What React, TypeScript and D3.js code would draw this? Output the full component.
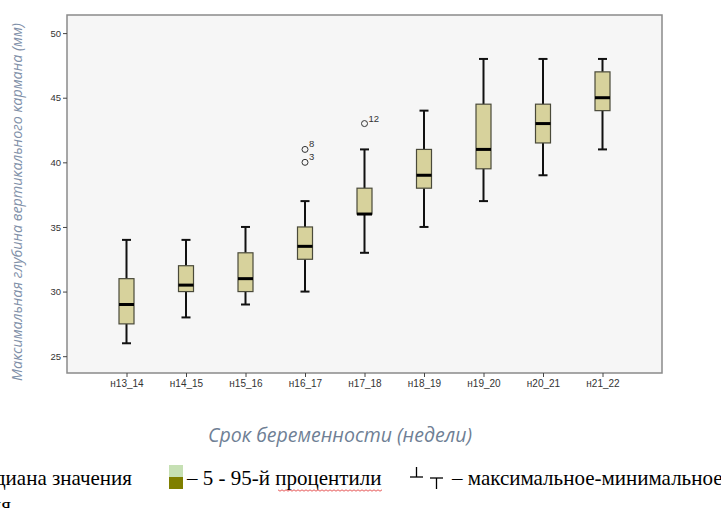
import { useEffect, useRef } from 'react';
import * as d3 from 'd3';

// срок беременности (недели) и статистика для каждой группы (мм)
const groups = ['н13_14', 'н14_15', 'н15_16', 'н16_17', 'н17_18', 'н18_19', 'н19_20', 'н20_21', 'н21_22'];
const minVals = [26, 28, 29, 30, 33, 35, 37, 39, 41];
const q1Vals = [27.5, 30, 30, 32.5, 36, 38, 39.5, 41.5, 44];
const medianVals = [29, 30.5, 31, 33.5, 36, 39, 41, 43, 45];
const q3Vals = [31, 32, 33, 35, 38, 41, 44.5, 44.5, 47];
const maxVals = [34, 34, 35, 37, 41, 44, 48, 48, 48];
const outliers = [
  { group: 'н16_17', value: 40, label: '3' },
  { group: 'н16_17', value: 41, label: '8' },
  { group: 'н17_18', value: 43, label: '12' },
];
const yTicks = [25, 30, 35, 40, 45, 50];

export default function App() {
  const svgRef = useRef<SVGSVGElement>(null);

  useEffect(() => {
    const width = 721;
    const height = 508;
    const plot = { left: 67, top: 15, right: 662, bottom: 373 };

    const svg = d3.select(svgRef.current);
    svg.selectAll('*').remove();
    svg.attr('width', width).attr('height', height);

    const x = d3.scalePoint()
      .domain(groups)
      .range([plot.left, plot.right])
      .padding(1);

    const y = d3.scaleLinear()
      .domain([23.7, 51.4])
      .range([plot.bottom, plot.top]);

    // фон области построения
    svg.append('rect')
      .attr('x', plot.left)
      .attr('y', plot.top)
      .attr('width', plot.right - plot.left)
      .attr('height', plot.bottom - plot.top)
      .attr('fill', '#f6f6f6')
      .attr('stroke', '#8a8a8a')
      .attr('stroke-width', 1.5);

    // ось Y
    const yAxis = svg.append('g')
      .attr('transform', `translate(${plot.left},0)`)
      .call(d3.axisLeft(y).tickValues(yTicks).tickSize(4).tickPadding(2));
    yAxis.select('.domain').remove();
    yAxis.selectAll('line').attr('stroke', '#444');
    yAxis.selectAll('text')
      .attr('font-family', 'Arial, "Liberation Sans", sans-serif')
      .attr('font-size', 9.5)
      .attr('fill', '#333');

    // ось X
    const xAxis = svg.append('g')
      .attr('transform', `translate(0,${plot.bottom})`)
      .call(d3.axisBottom(x).tickSize(4).tickPadding(3));
    xAxis.select('.domain').remove();
    xAxis.selectAll('line').attr('stroke', '#444');
    xAxis.selectAll('text')
      .attr('font-family', 'Arial, "Liberation Sans", sans-serif')
      .attr('font-size', 10)
      .attr('fill', '#333');

    const boxW = 15;
    const capW = 9;

    const g = svg.append('g');
    groups.forEach((name, i) => {
      const cx = x(name) as number;
      // усы
      g.append('line')
        .attr('x1', cx).attr('x2', cx)
        .attr('y1', y(maxVals[i])).attr('y2', y(q3Vals[i]))
        .attr('stroke', '#111').attr('stroke-width', 2);
      g.append('line')
        .attr('x1', cx).attr('x2', cx)
        .attr('y1', y(q1Vals[i])).attr('y2', y(minVals[i]))
        .attr('stroke', '#111').attr('stroke-width', 2);
      g.append('line')
        .attr('x1', cx - capW / 2).attr('x2', cx + capW / 2)
        .attr('y1', y(maxVals[i])).attr('y2', y(maxVals[i]))
        .attr('stroke', '#111').attr('stroke-width', 2);
      g.append('line')
        .attr('x1', cx - capW / 2).attr('x2', cx + capW / 2)
        .attr('y1', y(minVals[i])).attr('y2', y(minVals[i]))
        .attr('stroke', '#111').attr('stroke-width', 2);
      // ящик
      g.append('rect')
        .attr('x', cx - boxW / 2)
        .attr('y', y(q3Vals[i]))
        .attr('width', boxW)
        .attr('height', y(q1Vals[i]) - y(q3Vals[i]))
        .attr('fill', '#d7d29c')
        .attr('stroke', '#4a4a3a')
        .attr('stroke-width', 1.2);
      // медиана
      g.append('line')
        .attr('x1', cx - boxW / 2).attr('x2', cx + boxW / 2)
        .attr('y1', y(medianVals[i])).attr('y2', y(medianVals[i]))
        .attr('stroke', '#000').attr('stroke-width', 3);
    });

    // выбросы
    outliers.forEach(o => {
      const cx = x(o.group) as number;
      g.append('circle')
        .attr('cx', cx).attr('cy', y(o.value)).attr('r', 3)
        .attr('fill', 'none').attr('stroke', '#333').attr('stroke-width', 1);
      g.append('text')
        .attr('x', cx + 4).attr('y', y(o.value) - 2)
        .attr('font-family', 'Arial, "Liberation Sans", sans-serif')
        .attr('font-size', 9.5).attr('fill', '#333')
        .text(o.label);
    });

    // подписи осей
    svg.append('text')
      .attr('transform', 'translate(22,202) rotate(-90)')
      .attr('text-anchor', 'middle')
      .attr('font-family', '"Open Sans", "Noto Sans", sans-serif')
      .attr('font-style', 'italic')
      .attr('font-size', 14.3)
      .attr('fill', '#7f90a8')
      .text('Максимальная глубина вертикального кармана (мм)');

    svg.append('text')
      .attr('x', 340).attr('y', 442)
      .attr('text-anchor', 'middle')
      .attr('font-family', '"Open Sans", "Noto Sans", sans-serif')
      .attr('font-style', 'italic')
      .attr('font-size', 19.5)
      .attr('fill', '#6f7f95')
      .text('Срок беременности (недели)');

    // легенда
    const serif = '"Liberation Serif", "Times New Roman", serif';
    svg.append('text')
      .attr('x', 132).attr('y', 485).attr('text-anchor', 'end')
      .attr('font-family', serif).attr('font-size', 21).attr('fill', '#000')
      .text('Медиана значения');
    svg.append('text')
      .attr('x', 11).attr('y', 512).attr('text-anchor', 'end')
      .attr('font-family', serif).attr('font-size', 21).attr('fill', '#000')
      .text('распределения');

    svg.append('rect')
      .attr('x', 169).attr('y', 465).attr('width', 14).attr('height', 12)
      .attr('fill', '#c6e0b4');
    svg.append('rect')
      .attr('x', 169).attr('y', 477).attr('width', 14).attr('height', 12)
      .attr('fill', '#7f7f00');
    svg.append('text')
      .attr('x', 187).attr('y', 485)
      .attr('font-family', serif).attr('font-size', 21).attr('fill', '#000')
      .text('– 5 - 95-й процентили');

    // волнистое подчёркивание (проверка орфографии)
    const wave = d3.range(0, 106, 2).map((d, i) => [278 + d, 490 + (i % 2 ? 1.2 : -0.2)] as [number, number]);
    svg.append('path')
      .attr('d', d3.line()(wave))
      .attr('fill', 'none').attr('stroke', '#e03030').attr('stroke-width', 0.8);

    // символ усов
    const sym = svg.append('g').attr('stroke', '#000').attr('stroke-width', 1.3);
    sym.append('line').attr('x1', 410).attr('x2', 423).attr('y1', 477).attr('y2', 477);
    sym.append('line').attr('x1', 416.5).attr('x2', 416.5).attr('y1', 467).attr('y2', 477);
    sym.append('line').attr('x1', 430).attr('x2', 443).attr('y1', 478).attr('y2', 478);
    sym.append('line').attr('x1', 436.5).attr('x2', 436.5).attr('y1', 478).attr('y2', 489);

    svg.append('text')
      .attr('x', 452).attr('y', 485)
      .attr('font-family', serif).attr('font-size', 21).attr('fill', '#000')
      .text('– максимальное-минимальное');
  }, []);

  return (
    <div style={{ position: 'absolute', left: 0, top: 0 }}>
      <svg ref={svgRef} style={{ display: 'block', background: '#fff' }}></svg>
    </div>
  );
}
